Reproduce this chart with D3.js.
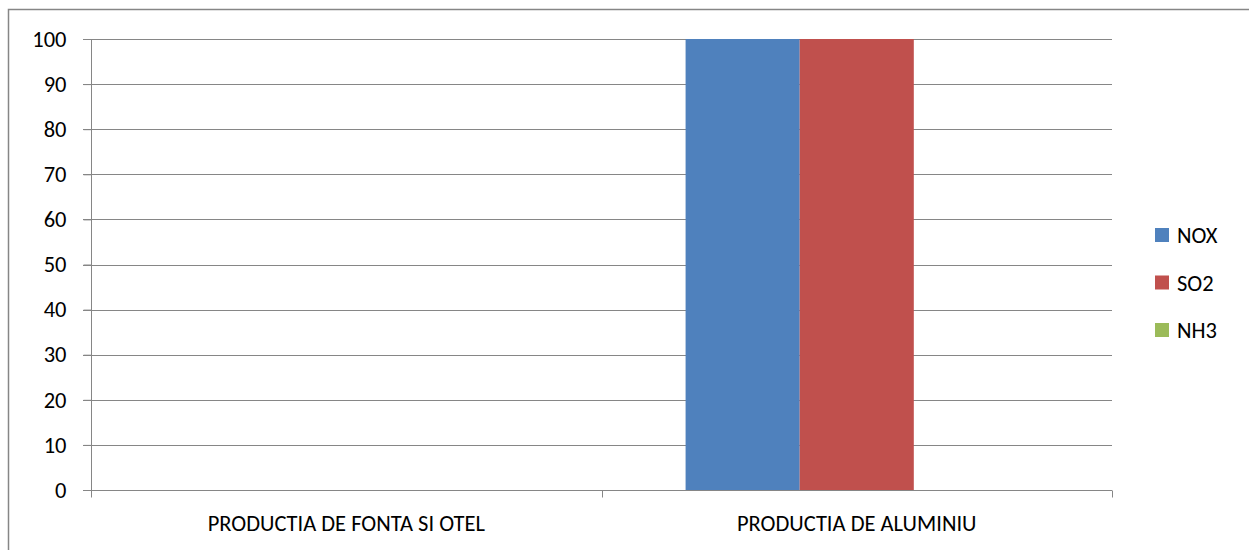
<!DOCTYPE html>
<html><head><meta charset="utf-8">
<script src="https://cdn.jsdelivr.net/npm/d3@7"></script>
<style>body{margin:0;background:#fff}svg{display:block}</style>
</head><body>
<script>
const categories = ["PRODUCTIA DE FONTA SI OTEL", "PRODUCTIA DE ALUMINIU"];
const seriesNames = ["NOX", "SO2", "NH3"];
const NOX = [0, 100];
const SO2 = [0, 100];
const NH3 = [0, 0];
const yTicks = [0, 10, 20, 30, 40, 50, 60, 70, 80, 90, 100];
const colors = ["#4F81BD", "#C0504D", "#9BBB59"];
const seriesValues = [NOX, SO2, NH3];

(function () {
const W = 1249, H = 550;
const font = "Carlito, Calibri, Lato, sans-serif";
const fs = 22.5;
const svg = d3.select("body").append("svg").attr("width", W).attr("height", H);

// outer border
svg.append("rect").attr("x", 8.5).attr("y", 9.5).attr("width", 1250).attr("height", 560)
  .attr("fill", "none").attr("stroke", "#868686").attr("stroke-width", 1.5);

const pLeft = 91, pRight = 1112, pTop = 39, pBottom = 490;
const x = d3.scaleBand().domain(categories).range([pLeft, pRight]);
const y = d3.scaleLinear().domain([0, 100]).range([pBottom, pTop]);
const inner = d3.scaleBand().domain(seriesNames).range([0, x.bandwidth()]).paddingOuter(84 / 114).paddingInner(0);

// gridlines
svg.append("g").selectAll("line").data(yTicks).join("line")
  .attr("x1", pLeft - 8).attr("x2", pRight)
  .attr("y1", d => Math.round(y(d)) + 0.5).attr("y2", d => Math.round(y(d)) + 0.5)
  .attr("stroke", "#868686").attr("stroke-width", 1);

// bars
seriesNames.forEach((s, i) => {
  svg.append("g").selectAll("rect").data(categories).join("rect")
    .attr("x", c => x(c) + inner(s))
    .attr("width", inner.bandwidth())
    .attr("y", (c, j) => y(seriesValues[i][j]))
    .attr("height", (c, j) => y(0) - y(seriesValues[i][j]))
    .attr("fill", colors[i]);
});

// y axis
const yAxis = svg.append("g").attr("transform", `translate(${pLeft + 0.5},0)`)
  .call(d3.axisLeft(y).tickValues(yTicks).tickSize(8).tickPadding(17).tickFormat(d3.format("d")));
yAxis.attr("font-family", font).attr("font-size", fs);
yAxis.select(".domain").attr("stroke", "#868686").attr("d", `M0,${pTop}V${pBottom + 0.5}`);
yAxis.selectAll(".tick line").attr("stroke", "#868686");
yAxis.selectAll(".tick text").attr("fill", "#000");

// x axis
const xAxis = svg.append("g").attr("transform", `translate(0,${Math.round(pBottom) + 0.5})`);
xAxis.append("line").attr("x1", pLeft).attr("x2", pRight).attr("stroke", "#868686");
const bounds = [pLeft, ...categories.map(c => x(c) + x.bandwidth())];
xAxis.selectAll("line.t").data(bounds).join("line").attr("class", "t")
  .attr("x1", d => Math.round(d) + 0.5).attr("x2", d => Math.round(d) + 0.5)
  .attr("y1", 0).attr("y2", 7).attr("stroke", "#868686");
xAxis.selectAll("text").data(categories).join("text")
  .attr("x", c => x(c) + x.bandwidth() / 2).attr("y", 40)
  .attr("text-anchor", "middle").attr("font-family", font).attr("font-size", fs).attr("fill", "#000")
  .text(c => c);

// legend
const lg = svg.append("g");
seriesNames.forEach((s, i) => {
  const cy = 235 + i * 47.5;
  lg.append("rect").attr("x", 1155).attr("y", cy - 7).attr("width", 14).attr("height", 14).attr("fill", colors[i]);
  lg.append("text").attr("x", 1177).attr("y", cy + 8).attr("font-family", font).attr("font-size", fs)
    .attr("fill", "#000").text(s);
});
})();
</script>
</body></html>
